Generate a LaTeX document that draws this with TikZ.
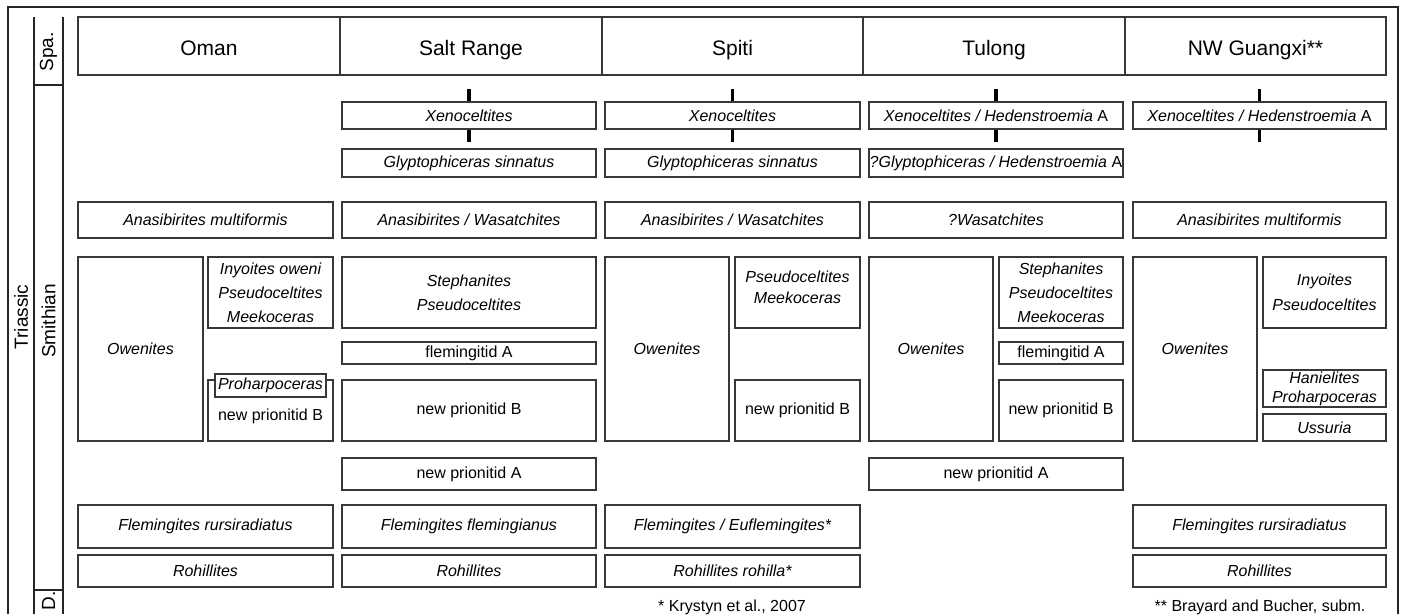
\documentclass[tikz,border=0pt]{standalone}
\usepackage{fontspec}
\setmainfont{Liberation Sans}
\newcommand{\zbox}[7][]{%
  \node[box,minimum width={((#5)-(#3))*1pt},minimum height={((#6)-(#4))*1pt},#1] (#2) at ({((#3)+(#5))/2},{((#4)+(#6))/2}) {#7};}
\begin{document}
\begin{tikzpicture}[x=1pt,y=-1pt,
  box/.style={draw=black!78,line width=1.1pt,inner sep=0pt,align=center,font=\fontsize{16}{19}\selectfont\itshape},
  roman/.style={font=\fontsize{16}{19}\selectfont\upshape},
  hdr/.style={font=\fontsize{21}{25}\selectfont\upshape,text height=18pt,text depth=0pt},
  lsp/.style={font=\fontsize{16}{24}\selectfont\itshape},
  lbl/.style={rotate=90,inner sep=0pt,font=\fontsize{19}{22}\selectfont},
  tickbar/.style={line width=3.6pt,black},
  frameline/.style={line width=1.3pt,black!85},
  note/.style={inner sep=0pt,font=\fontsize{16}{19}\selectfont}]
\useasboundingbox (0,0) rectangle (1403,614);

% frame and stage columns
\draw[frameline] (8,614) -- (8,7) -- (1398,7) -- (1398,614);
\draw[frameline] (34,17) -- (34,614);
\draw[frameline] (63,17) -- (63,614);
\draw[frameline] (34,85) -- (63,85);
\draw[frameline] (34,590) -- (63,590);
\node[lbl] (tri) at (21,317) {Triassic};
\node[lbl] (spa) at (48.5,52) {Spa.};
\node[lbl] (smi) at (48.5,321) {Smithian};
\node[lbl] (dien) at (48.5,601) {D.};

% headers
\zbox[hdr]{hO}{78}{17}{340}{75}{Oman}
\zbox[hdr]{hS}{340}{17}{602}{75}{Salt Range}
\zbox[hdr]{hP}{602}{17}{863}{75}{Spiti}
\zbox[hdr]{hT}{863}{17}{1125}{75}{Tulong}
\zbox[hdr]{hN}{1125}{17}{1386}{75}{NW Guangxi**}

% Oman
\zbox{oA}{78}{202}{333}{238}{Anasibirites multiformis}
\zbox{oOw}{78}{257}{203}{441}{Owenites}
\zbox[lsp]{oIny}{208}{257}{333}{328}{Inyoites oweni\\Pseudoceltites\\Meekoceras}
\zbox{oNpb}{208}{380}{333}{441}{}
\zbox[fill=white]{oPro}{215}{374}{326}{397}{Proharpoceras}
\node[box,draw=none,roman] (oNpbT) at (270.5,416) {new prionitid B};
\zbox{oFl}{78}{505}{333}{548}{Flemingites rursiradiatus}
\zbox{oRo}{78}{555}{333}{587}{Rohillites}

% Salt Range
\zbox{sX}{342}{102}{596}{129}{Xenoceltites}
\zbox{sG}{342}{149}{596}{177}{Glyptophiceras sinnatus}
\zbox{sA}{342}{202}{596}{238}{Anasibirites / Wasatchites}
\zbox[lsp]{sSt}{342}{257}{596}{328}{Stephanites\\Pseudoceltites}
\zbox[roman]{sFa}{342}{342}{596}{364}{flemingitid A}
\zbox[roman]{sNb}{342}{380}{596}{441}{new prionitid B}
\zbox[roman]{sNa}{342}{458}{596}{490}{new prionitid A}
\zbox{sFl}{342}{505}{596}{548}{Flemingites flemingianus}
\zbox{sRo}{342}{555}{596}{587}{Rohillites}

% Spiti
\zbox{pX}{605}{102}{860}{129}{Xenoceltites}
\zbox{pG}{605}{149}{860}{177}{Glyptophiceras sinnatus}
\zbox{pA}{605}{202}{860}{238}{Anasibirites / Wasatchites}
\zbox{pOw}{605}{257}{729}{441}{Owenites}
\zbox{pPs}{735}{257}{860}{328}{}
\node[box,draw=none,anchor=north,font=\fontsize{16}{21}\selectfont\itshape] (pPsT) at (797.5,270.5) {Pseudoceltites\\Meekoceras};
\zbox[roman]{pNb}{735}{380}{860}{441}{new prionitid B}
\zbox{pFl}{605}{505}{860}{548}{Flemingites / Euflemingites*}
\zbox{pRo}{605}{555}{860}{587}{Rohillites rohilla*}

% Tulong
\zbox{tX}{869}{102}{1123}{129}{Xenoceltites / Hedenstroemia {\upshape A}}
\zbox{tG}{869}{149}{1123}{177}{?Glyptophiceras / Hedenstroemia {\upshape A}}
\zbox{tA}{869}{202}{1123}{238}{?Wasatchites}
\zbox{tOw}{869}{257}{993}{441}{Owenites}
\zbox[lsp]{tSt}{999}{257}{1123}{328}{Stephanites\\Pseudoceltites\\Meekoceras}
\zbox[roman]{tFa}{999}{342}{1123}{364}{flemingitid A}
\zbox[roman]{tNb}{999}{380}{1123}{441}{new prionitid B}
\zbox[roman]{tNa}{869}{458}{1123}{490}{new prionitid A}

% NW Guangxi
\zbox{nX}{1133}{102}{1386}{129}{Xenoceltites / Hedenstroemia {\upshape A}}
\zbox{nA}{1133}{202}{1386}{238}{Anasibirites multiformis}
\zbox{nOw}{1133}{257}{1257}{441}{Owenites}
\zbox[font=\fontsize{16}{25}\selectfont\itshape]{nIny}{1263}{257}{1386}{328}{Inyoites\\Pseudoceltites}
\zbox{nHa}{1263}{370}{1386}{407}{Hanielites\\Proharpoceras}
\zbox{nUs}{1263}{414}{1386}{441}{Ussuria}
\zbox{nFl}{1133}{505}{1386}{548}{Flemingites rursiradiatus}
\zbox{nRo}{1133}{555}{1386}{587}{Rohillites}

% boundary ticks
\foreach \b in {sX,pX,tX,nX}{
  \draw[tickbar] (\b.north) -- ++(0,-12);
  \draw[tickbar] (\b.south) -- ++(0,12);
}

% footnotes
\node[note,anchor=base] (fn1) at (732,611) {* Krystyn et al., 2007};
\node[note,anchor=base] (fn2) at (1260,611) {** Brayard and Bucher, subm.};
\end{tikzpicture}
\end{document}
